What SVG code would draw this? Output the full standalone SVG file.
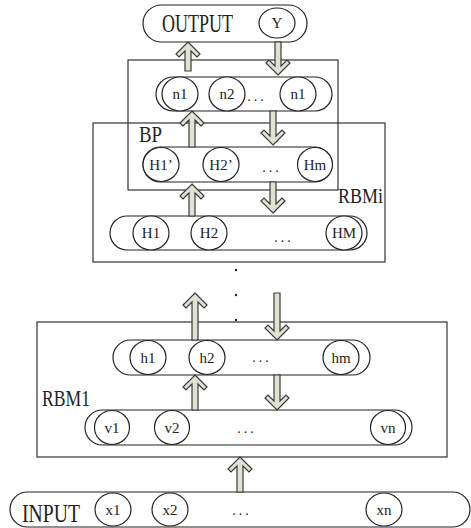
<svg xmlns="http://www.w3.org/2000/svg" width="471" height="528" viewBox="0 0 471 528">
<style>
.box{fill:none;stroke:#333;stroke-width:1.2}
.pill{fill:#fff;stroke:#222;stroke-width:1.2}
.c{fill:#fff;stroke:#222;stroke-width:1.2}
.t{font-family:"Liberation Serif",serif;font-size:15px;fill:#222;text-anchor:middle}
.big{font-family:"Liberation Serif",serif;fill:#222}
.dots{font-family:"Liberation Serif",serif;font-size:14px;fill:#222;text-anchor:middle;letter-spacing:3px}
.arr{fill:#e0e3d1;stroke:#3a3a3a;stroke-width:1.2;stroke-linejoin:miter}
.dot{fill:#222}
</style>
<rect width="471" height="528" fill="#fff"/>

<g id="boxes">
<rect id="bp-box" class="box" x="128" y="60" width="210" height="130"/>
<rect id="rbmi-box" class="box" x="93" y="123" width="292" height="139"/>
<rect id="rbm1-box" class="box" x="37" y="322" width="410" height="135"/>
<text class="big" x="139" y="142" font-size="24" textLength="23" lengthAdjust="spacingAndGlyphs">BP</text>
<text class="big" x="338" y="203" font-size="22" textLength="45" lengthAdjust="spacingAndGlyphs">RBMi</text>
<text class="big" x="42" y="406" font-size="23" textLength="48" lengthAdjust="spacingAndGlyphs">RBM1</text>
</g>

<g id="output">
<rect class="pill" x="143" y="5" width="164" height="37" rx="18.5"/>
<text class="big" x="162" y="32" font-size="26" textLength="71" lengthAdjust="spacingAndGlyphs">OUTPUT</text>
<ellipse class="c" cx="277" cy="23" rx="18" ry="15"/>
<text class="t" x="277" y="28" font-size="13">Y</text>
</g>

<g id="n-layer">
<rect class="pill" x="156" y="77" width="176" height="34" rx="17"/>
<ellipse class="c" cx="180" cy="94" rx="18" ry="17"/>
<text class="t" x="180" y="99">n1</text>
<ellipse class="c" cx="227" cy="94" rx="18" ry="17"/>
<text class="t" x="227" y="99">n2</text>
<text class="dots" x="257" y="101">...</text>
<ellipse class="c" cx="298" cy="94" rx="18" ry="17"/>
<text class="t" x="298" y="99">n1</text>
</g>

<g id="hprime-layer">
<rect class="pill" x="143" y="147" width="189" height="35" rx="17.5"/>
<ellipse class="c" cx="161" cy="164.5" rx="18" ry="17"/>
<text class="t" x="161" y="169.5">H1’</text>
<ellipse class="c" cx="221" cy="164.5" rx="18" ry="17"/>
<text class="t" x="221" y="169.5">H2’</text>
<text class="dots" x="272" y="172">...</text>
<ellipse class="c" cx="315" cy="164.5" rx="17.5" ry="17"/>
<text class="t" x="315" y="169.5">Hm</text>
</g>

<g id="h-upper-layer">
<rect class="pill" x="110" y="216" width="257" height="34" rx="17"/>
<ellipse class="c" cx="151" cy="233" rx="18" ry="17"/>
<text class="t" x="151" y="238">H1</text>
<ellipse class="c" cx="209" cy="233" rx="18" ry="17"/>
<text class="t" x="209" y="238">H2</text>
<text class="dots" x="284" y="242">...</text>
<ellipse class="c" cx="344" cy="233" rx="18" ry="17"/>
<text class="t" x="344" y="238">HM</text>
</g>

<g id="vdots">
<circle class="dot" cx="236" cy="270" r="1.2"/>
<circle class="dot" cx="236" cy="295" r="1.2"/>
<circle class="dot" cx="236" cy="320" r="1.2"/>
</g>

<g id="h-layer">
<rect class="pill" x="113" y="340" width="257" height="35" rx="17.5"/>
<ellipse class="c" cx="148" cy="357.5" rx="18" ry="17"/>
<text class="t" x="148" y="362.5">h1</text>
<ellipse class="c" cx="207" cy="357.5" rx="18" ry="17"/>
<text class="t" x="207" y="362.5">h2</text>
<text class="dots" x="262" y="362">...</text>
<ellipse class="c" cx="341" cy="357.5" rx="18" ry="17"/>
<text class="t" x="341" y="362.5">hm</text>
</g>

<g id="v-layer">
<rect class="pill" x="85" y="410" width="327" height="35" rx="17.5"/>
<ellipse class="c" cx="112" cy="427.5" rx="17.5" ry="17"/>
<text class="t" x="112" y="432.5">v1</text>
<ellipse class="c" cx="172" cy="427.5" rx="17.5" ry="17"/>
<text class="t" x="172" y="432.5">v2</text>
<text class="dots" x="247" y="433">...</text>
<ellipse class="c" cx="388" cy="427.5" rx="17.5" ry="17"/>
<text class="t" x="388" y="432.5">vn</text>
</g>

<g id="input">
<rect class="pill" x="10" y="492" width="460" height="35" rx="17.5"/>
<text class="big" x="22" y="522" font-size="26" textLength="58" lengthAdjust="spacingAndGlyphs">INPUT</text>
<ellipse class="c" cx="113" cy="509.5" rx="18" ry="16.5"/>
<text class="t" x="113" y="514.5">x1</text>
<ellipse class="c" cx="170" cy="509.5" rx="18" ry="16.5"/>
<text class="t" x="170" y="514.5">x2</text>
<text class="dots" x="242" y="515">...</text>
<ellipse class="c" cx="384" cy="509.5" rx="18" ry="16.5"/>
<text class="t" x="384" y="514.5">xn</text>
</g>

<g id="connectors">
<!-- up arrows: tip t, base b -->
<polygon class="arr" points="188,42 200,54 197,57 191,51 191,71 185,71 185,51 179,57 176,54"/>
<polygon class="arr" points="278,75 290,63 287,60 281,66 281,42 275,42 275,66 269,60 266,63"/>

<polygon class="arr" points="192,111 204,123 201,126 195,120 195,147 189,147 189,120 183,126 180,123"/>
<polygon class="arr" points="273,145 285,133 282,130 276,136 276,111 270,111 270,136 264,130 261,133"/>

<polygon class="arr" points="192,184 204,196 201,199 195,193 195,216 189,216 189,193 183,199 180,196"/>
<polygon class="arr" points="273,213 285,201 282,198 276,204 276,182 270,182 270,204 264,198 261,201"/>

<polygon class="arr" points="195,293 207,305 204,308 198,302 198,340 192,340 192,302 186,308 183,305"/>
<polygon class="arr" points="277,340 289,328 286,325 280,331 280,293 274,293 274,331 268,325 265,328"/>

<polygon class="arr" points="195,375 207,387 204,390 198,384 198,410 192,410 192,384 186,390 183,387"/>
<polygon class="arr" points="277,410 289,398 286,395 280,401 280,375 274,375 274,401 268,395 265,398"/>

<polygon class="arr" points="240,457 252,469 249,472 243,466 243,492 237,492 237,466 231,472 228,469"/>
</g>
</svg>
